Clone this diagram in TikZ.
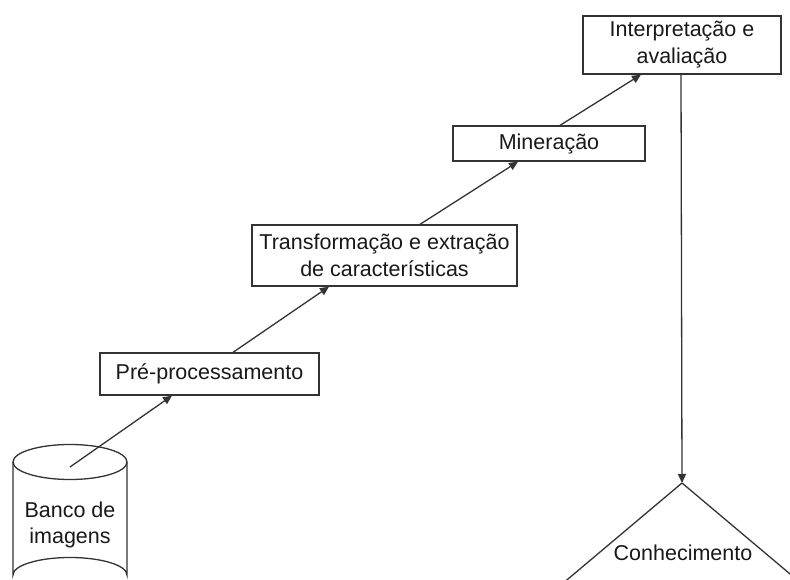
\documentclass[tikz,border=0pt]{standalone}
\usepackage{fontspec}
\setmainfont{Liberation Sans}
\usetikzlibrary{arrows.meta}
\begin{document}
\begin{tikzpicture}[x=1pt,y=-1pt,
  line width=1.3pt,
  linecol/.style={draw=black!80},
  box/.style={linecol, fill=white, inner sep=0pt, align=center, font=\fontsize{21.5}{27}\selectfont, text=black!90},
  lbl/.style={inner sep=0pt, align=center, font=\fontsize{21.5}{26}\selectfont, text=black!90},
  arr/.style={linecol, -{Triangle[length=9pt,width=8pt]}}
]
\clip (0,0) rectangle (790,580);
\fill[white] (0,0) rectangle (790,580);

% database cylinder
\draw[linecol] (13,462) -- (13,575) arc[start angle=180, end angle=360, x radius=57, y radius=17.5] -- (127,462);
\draw[linecol] (70,462) ellipse[x radius=57, y radius=17.5];
\node[lbl] (db) at (70,525) {Banco de\\imagens};
\coordinate (dbtop) at (70,467);

% boxes
\node[box, minimum width=219pt, minimum height=42pt] (pre) at (209.5,374) {Pré-processamento};
\node[box, minimum width=265pt, minimum height=61pt] (tr) at (384.5,255.5) {Transformação e extração\\de características};
\node[box, minimum width=192pt, minimum height=35pt] (min) at (549,143.5) {Mineração};
\node[box, minimum width=198pt, minimum height=58pt] (int) at (682,45) {Interpretação e\\avaliação};

% knowledge triangle
\coordinate (apex) at (682,483);
\draw[linecol] (apex) -- ++(-190,160);
\draw[linecol] (apex) -- ++(190,160);
\node[lbl] (kn) at (683,553) {Conhecimento};

% connectors
\draw[arr] (dbtop) -- ([xshift=-37.5pt]pre.south);
\draw[arr] ([xshift=23.5pt]pre.north) -- ([xshift=-55.5pt]tr.south);
\draw[arr] ([xshift=35.5pt]tr.north) -- ([xshift=-31pt]min.south);
\draw[arr] ([xshift=11pt]min.north) -- ([xshift=-41pt]int.south);
\draw[arr] ([xshift=-1pt]int.south) -- (apex);
\end{tikzpicture}
\end{document}
